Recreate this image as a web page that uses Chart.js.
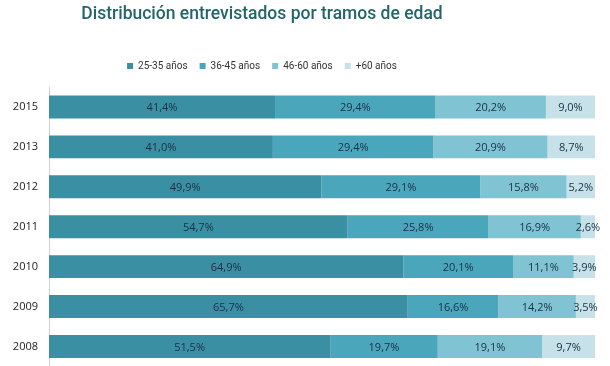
<!DOCTYPE html>
<html>
<head>
<meta charset="utf-8">
<script src="https://cdn.jsdelivr.net/npm/chart.js@4"></script>
<style>
  html, body { margin: 0; padding: 0; background: #fff; overflow: hidden; }
  canvas { display: block; }
</style>
</head>
<body>
<canvas id="edad-chart" width="610" height="373"></canvas>
<script>
// Data
const years = ['2015', '2013', '2012', '2011', '2010', '2009', '2008'];
const group25_35 = [41.4, 41.0, 49.9, 54.7, 64.9, 65.7, 51.5];
const group36_45 = [29.4, 29.4, 29.1, 25.8, 20.1, 16.6, 19.7];
const group46_60 = [20.2, 20.9, 15.8, 16.9, 11.1, 14.2, 19.1];
const group60plus = [9.0, 8.7, 5.2, 2.6, 3.9, 3.5, 9.7];
const seriesNames = ['25-35 años', '36-45 años', '46-60 años', '+60 años'];
const seriesColors = ['#3a8fa3', '#4aa6bb', '#80c3d2', '#c6e1e8'];

const allSeries = [group25_35, group36_45, group46_60, group60plus];

// Draw the value labels in the middle of each segment
const barLabels = {
  id: 'barLabels',
  afterDatasetsDraw(chart) {
    const ctx = chart.ctx;
    ctx.save();
    ctx.font = '11px "Open Sans", sans-serif';
    ctx.fillStyle = '#1a3046';
    ctx.textAlign = 'center';
    ctx.textBaseline = 'middle';
    chart.data.datasets.forEach((ds, i) => {
      chart.getDatasetMeta(i).data.forEach((bar, j) => {
        const cx = (bar.x + bar.base) / 2;
        ctx.fillText(ds.data[j].toFixed(1).replace('.', ',') + '%', cx, bar.y + 1);
      });
    });
    ctx.restore();
  }
};

// Title and legend sit a bit left of the plot in the original,
// and the legend is a little above the gap it leaves
const shiftHeader = {
  id: 'shiftHeader',
  afterLayout(chart) {
    const offset = 71;
    if (chart.titleBlock) chart.titleBlock.right -= offset;
    if (chart.legend) {
      chart.legend.right -= offset;
      chart.legend.top -= 6;
      chart.legend.bottom -= 6;
    }
  }
};

new Chart(document.getElementById('edad-chart'), {
  type: 'bar',
  data: {
    labels: years,
    datasets: allSeries.map((values, i) => ({
      label: seriesNames[i],
      data: values,
      backgroundColor: seriesColors[i],
      borderWidth: 0,
      barPercentage: 0.575,
      categoryPercentage: 1
    }))
  },
  options: {
    indexAxis: 'y',
    responsive: false,
    animation: false,
    layout: { padding: { left: 0, right: 15, top: 4, bottom: 0 } },
    plugins: {
      title: {
        display: true,
        text: 'Distribución entrevistados por tramos de edad',
        color: '#22666a',
        font: { family: 'Roboto, sans-serif', size: 17.5, weight: '500' },
        padding: { top: 0, bottom: 30 }
      },
      legend: {
        display: true,
        labels: {
          boxWidth: 6,
          boxHeight: 6,
          padding: 12,
          color: '#333',
          font: { family: 'Roboto, sans-serif', size: 10 }
        }
      },
      tooltip: { enabled: false }
    },
    scales: {
      x: {
        stacked: true,
        min: 0,
        max: 100,
        display: false
      },
      y: {
        stacked: true,
        grid: { display: false, drawTicks: true, tickLength: 11 },
        border: { display: true, color: '#d0d0d0' },
        ticks: {
          color: '#222',
          padding: 0,
          font: { family: '"Open Sans", sans-serif', size: 11 }
        },
        afterFit(axis) { axis.width = 49; }
      }
    }
  },
  plugins: [barLabels, shiftHeader]
});
</script>
</body>
</html>
